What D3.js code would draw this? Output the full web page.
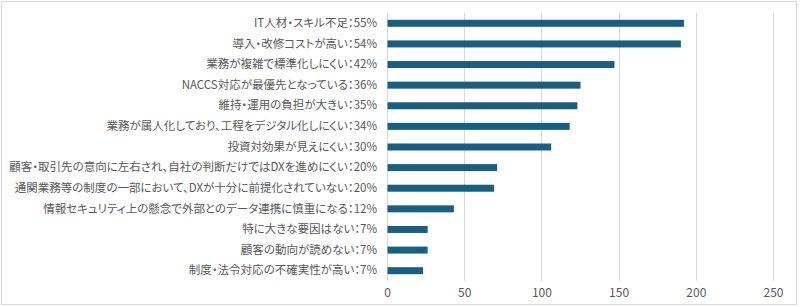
<html>
<head>
<meta charset="utf-8">
<script src="https://d3js.org/d3.v7.min.js"></script>
<style>
  body { margin: 0; background: #fff; }
  text { font-family: "Noto Sans CJK JP", "Noto Sans", sans-serif; font-feature-settings: "palt"; }
</style>
</head>
<body>
<svg id="plot"></svg>
<script>
// categories top to bottom
var labels = [
  "IT人材・スキル不足：55%",
  "導入・改修コストが高い：54%",
  "業務が複雑で標準化しにくい：42%",
  "NACCS対応が最優先となっている：36%",
  "維持・運用の負担が大きい：35%",
  "業務が属人化しており、工程をデジタル化しにくい：34%",
  "投資対効果が見えにくい：30%",
  "顧客・取引先の意向に左右され、自社の判断だけではDXを進めにくい：20%",
  "通関業務等の制度の一部において、DXが十分に前提化されていない：20%",
  "情報セキュリティ上の懸念で外部とのデータ連携に慎重になる：12%",
  "特に大きな要因はない：7%",
  "顧客の動向が読めない：7%",
  "制度・法令対応の不確実性が高い：7%"
]
// counts
var counts = [192, 190, 147, 125, 123, 118, 106, 71, 69, 43, 26, 26, 23]
var xTicks = [0, 50, 100, 150, 200, 250]

var width = 800
var height = 307

var margins = { "left": 387, "right": 27, "top": 13, "bottom": 26 }

var svg = d3.select("#plot")
  .attr("width", width)
  .attr("height", height)

// outer frame
svg.append("rect")
  .attr("x", 1.5).attr("y", 1.5)
  .attr("width", width - 5).attr("height", height - 4)
  .attr("fill", "white")
  .attr("stroke", "#d9d9d9")
  .attr("stroke-width", 1)

var xScale = d3.scaleLinear().domain([0, 250]).range([margins.left, width - margins.right])
var yScale = d3.scaleBand().domain(labels)
  .range([margins.top, height - margins.bottom])
  .paddingInner(0.66).paddingOuter(0.33)

// gridlines
svg.append("g")
  .selectAll("line")
  .data(xTicks)
  .enter().append("line")
  .attr("x1", function (d) { return Math.round(xScale(d)) + 0.5 })
  .attr("x2", function (d) { return Math.round(xScale(d)) + 0.5 })
  .attr("y1", margins.top)
  .attr("y2", height - margins.bottom)
  .attr("stroke", "#d9d9d9")
  .attr("stroke-width", 1)

// x tick labels
var xAxis = d3.axisBottom(xScale).tickValues(xTicks).tickSize(0).tickPadding(7)
var gx = svg.append("g")
  .attr("transform", "translate(0," + (height - margins.bottom) + ")")
  .call(xAxis)
gx.select(".domain").remove()
gx.selectAll("text")
  .attr("fill", "#595959")
  .attr("font-size", 12)
  .style("font-family", "'Noto Sans CJK JP', sans-serif")

// bars
svg.append("g")
  .selectAll("rect")
  .data(counts)
  .enter().append("rect")
  .attr("x", xScale(0) + 0.5)
  .attr("y", function (d, i) { return yScale(labels[i]) })
  .attr("width", function (d) { return xScale(d) - xScale(0) })
  .attr("height", yScale.bandwidth())
  .attr("fill", "#1a5f82")

// category labels
var yAxis = d3.axisLeft(yScale).tickSize(0).tickPadding(10)
var gy = svg.append("g")
  .attr("transform", "translate(" + margins.left + ",0)")
  .call(yAxis)
gy.select(".domain").remove()
gy.selectAll("text")
  .attr("fill", "#595959")
  .attr("font-size", 11.5)
  .style("font-family", "'Noto Sans CJK JP', sans-serif")
</script>
</body>
</html>
